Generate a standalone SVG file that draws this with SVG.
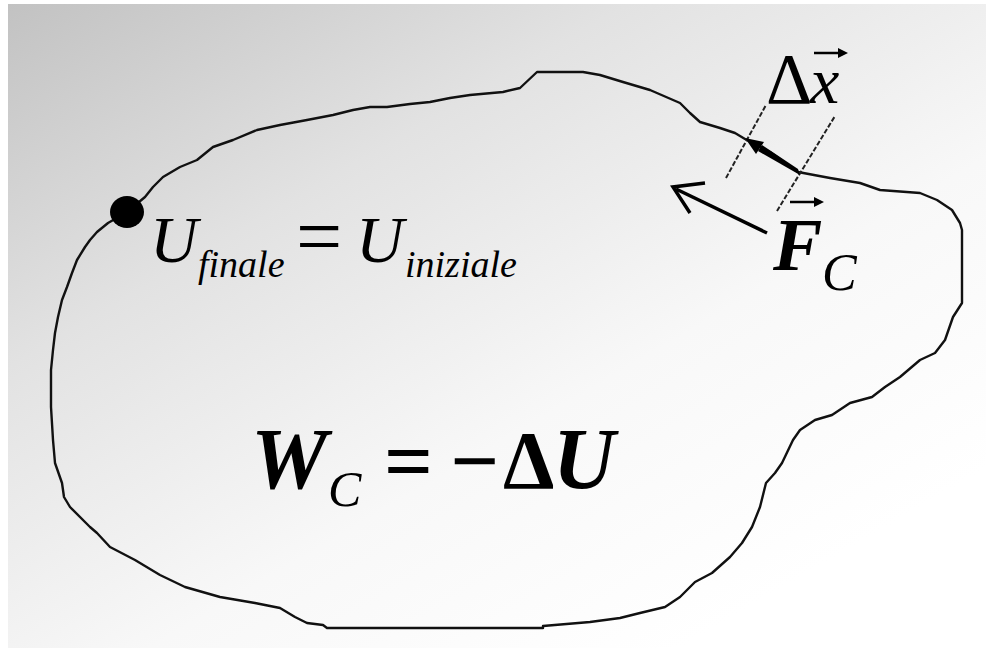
<svg xmlns="http://www.w3.org/2000/svg" width="986" height="648" viewBox="0 0 986 648">
<defs>
<linearGradient id="bg" x1="0" y1="0" x2="0.8" y2="0.9">
<stop offset="0" stop-color="#c2c2c2"/>
<stop offset="0.35" stop-color="#e2e2e2"/>
<stop offset="0.7" stop-color="#f8f8f8"/>
<stop offset="1" stop-color="#ffffff"/>
</linearGradient>
<style>
text{font-family:'Liberation Serif',Tinos,'Times New Roman','DejaVu Serif','Noto Serif',serif;fill:#000}
.i{font-style:italic}
.b{font-weight:bold}
.ln{fill:none;stroke:#111;stroke-width:2.4;stroke-linejoin:round}
.dash{fill:none;stroke:#222;stroke-width:2;stroke-dasharray:5 2}
</style>
</defs>
<rect x="0" y="0" width="986" height="648" fill="#ffffff"/>
<rect x="8" y="4" width="978" height="644" fill="url(#bg)"/>
<g id="path">
<polyline class="ln" points="127,212 145,197 153,187 163,177 180,167 197,160 213,147 233,140 257,130 280,125 307,120 333,115 353,110 370,107 387,107 410,104 430,102 450,98 470,95 503,92 520,88 537,72 583,72 600,75 623,82 650,90 680,103 690,113 700,122 720,128 735,133 745,139 770,152 798,172 830,178 860,183 880,190 920,193 937,200 952,210 960,223 962,230 962,303 953,317 945,340 935,353 920,360 900,377 885,387 872,397 850,403 832,415 815,420 800,430 793,440 782,463 775,473 766,483 760,507 752,527 742,543 730,557 712,573 695,582 680,597 665,607 640,613 620,618 590,622 543,626 543,628 327,628 323,625 307,623 295,617 280,608 255,603 220,597 185,587 160,575 135,560 110,547 97,533 90,527 70,507 64,497 62,483 55,463 53,440 51,407 51,370 53,350 55,333 58,317 62,300 67,287 72,273 77,260 85,247 90,240 97,232 108,223 127,212"/>
</g>
<g id="point">
<ellipse cx="127" cy="212" rx="17" ry="16" fill="#000"/>
</g>
<g id="connectors">
<line class="dash" x1="726" y1="178" x2="766" y2="105"/>
<line class="dash" x1="777" y1="211" x2="835" y2="116"/>
<polygon points="798,169 800,175 758,151 762,145" fill="#000"/>
<polygon points="745,138 764,142 756,154" fill="#000"/>
<line x1="767" y1="233" x2="676" y2="189" stroke="#000" stroke-width="3.5"/>
<polyline points="705,183 673,187 690,213" fill="none" stroke="#000" stroke-width="3.5" stroke-linejoin="miter"/>
</g>
<g id="label-dx">
<text x="766" y="103" font-size="72">Δ</text>
<text class="i" x="810" y="103" font-size="66">x</text>
<line x1="814" y1="53" x2="840" y2="53" stroke="#000" stroke-width="2.5"/>
<polygon points="848,53 838,48 838,58" fill="#000"/>
</g>
<g id="label-fc">
<text class="i b" x="773" y="270" font-size="74">F</text>
<text class="i" x="822" y="290" font-size="52">C</text>
<line x1="790" y1="202" x2="816" y2="202" stroke="#000" stroke-width="2.5"/>
<polygon points="824,202 814,197 814,207" fill="#000"/>
</g>
<g id="label-u">
<text class="i" x="150" y="262" font-size="66">U</text>
<text class="i" x="198" y="277" font-size="38">finale</text>
<text x="296" y="264" font-size="82">=</text>
<text class="i" x="356" y="262" font-size="66">U</text>
<text class="i" x="405" y="277" font-size="38">iniziale</text>
</g>
<g id="label-w">
<text class="i b" x="251" y="488" font-size="86">W</text>
<text class="i" x="328" y="506" font-size="50">C</text>
<text class="b" x="384" y="490" font-size="86">=</text>
<text class="b" x="450" y="490" font-size="86">−</text>
<text class="b" x="503" y="488" font-size="82">Δ</text>
<text class="i b" x="553" y="488" font-size="86">U</text>
</g>
</svg>
